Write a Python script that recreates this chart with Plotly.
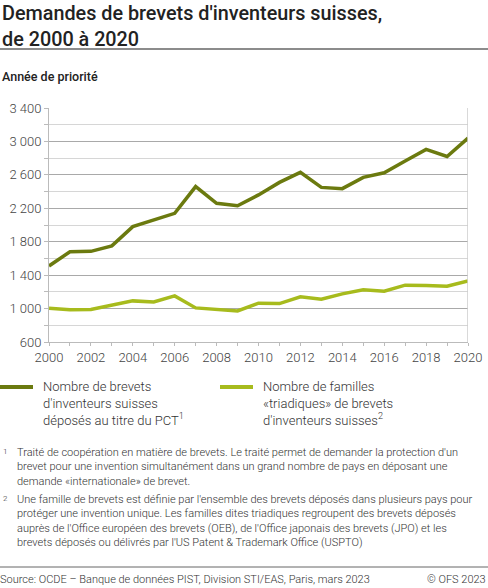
import plotly.graph_objects as go

years = list(range(2000, 2021))
pct = [1510, 1680, 1685, 1750, 1980, 2060, 2140, 2460, 2260, 2230, 2360, 2510, 2630,
       2450, 2435, 2570, 2625, 2765, 2905, 2820, 3040]
triad = [1005, 985, 990, 1040, 1092, 1080, 1152, 1008, 992, 972, 1064, 1060, 1140,
         1112, 1176, 1224, 1208, 1280, 1276, 1268, 1332]
name_pct = "Nombre de brevets<br>d'inventeurs suisses<br>déposés au titre du PCT<sup>1</sup>"
name_triad = "Nombre de familles<br>«triadiques» de brevets<br>d'inventeurs suisses<sup>2</sup>"
y_ticks = [600, 1000, 1400, 1800, 2200, 2600, 3000, 3400]
y_labels = ["600", "1 000", "1 400", "1 800", "2 200", "2 600", "3 000", "3 400"]

DARK = "#6b7a0f"
LIGHT = "#a7bb1d"
FONT = "Roboto"
W = 419.0
H = 234.0

fig = go.Figure()
fig.add_trace(go.Scatter(x=years, y=pct, mode="lines", name=name_pct,
                         line=dict(color=DARK, width=3.5), showlegend=False))
fig.add_trace(go.Scatter(x=years, y=triad, mode="lines", name=name_triad,
                         line=dict(color=LIGHT, width=3.5), showlegend=False))

tickfont = dict(family=FONT, size=13, color="#444444", weight=300)
fig.update_layout(
    width=488, height=588,
    margin=dict(l=49, r=20, t=108, b=246, autoexpand=False),
    paper_bgcolor="white", plot_bgcolor="white",
    font=dict(family=FONT, color="#333333"),
    showlegend=False,
    xaxis=dict(range=[2000, 2020], tickmode="array", tickvals=years[::2],
               tickfont=tickfont,
               showgrid=False, showline=True, linecolor="#bbbbbb", linewidth=1,
               ticks="outside", ticklen=3, tickcolor="#bbbbbb",
               minor=dict(tickvals=years, ticks="outside", ticklen=3, tickcolor="#bbbbbb"),
               zeroline=False, fixedrange=True),
    yaxis=dict(range=[600, 3400], tickmode="array", tickvals=y_ticks, ticktext=y_labels,
               tickfont=tickfont,
               showgrid=True, gridcolor="#a9a9a9", gridwidth=1,
               minor=dict(dtick=200, showgrid=True, gridcolor="#d6d6d6", ticks="outside",
                          ticklen=4, tickcolor="#bbbbbb"),
               showline=True, linecolor="#bbbbbb", linewidth=1,
               ticks="outside", ticklen=4, tickcolor="#bbbbbb",
               zeroline=False, fixedrange=True),
)


def ypx(px):
    return 1 - (px - 108) / H


def xpx(px):
    return (px - 49) / W


# right border of plot area
fig.add_shape(type="line", xref="x", yref="paper", x0=2020, x1=2020, y0=0, y1=1,
              line=dict(color="#cccccc", width=1.5))
# separator lines
fig.add_shape(type="line", xref="paper", yref="paper", x0=xpx(0), x1=xpx(488),
              y0=ypx(49), y1=ypx(49), line=dict(color="#666666", width=1.5))
fig.add_shape(type="line", xref="paper", yref="paper", x0=xpx(0), x1=xpx(488),
              y0=ypx(567), y1=ypx(567), line=dict(color="#666666", width=1))

# legend (manual)
for color, name, x0 in [(DARK, name_pct, 0), (LIGHT, name_triad, 220)]:
    fig.add_shape(type="line", xref="paper", yref="paper", x0=xpx(x0), x1=xpx(x0 + 33),
                  y0=ypx(387), y1=ypx(387), line=dict(color=color, width=4))
    fig.add_annotation(text=name, xref="paper", yref="paper", x=xpx(x0 + 41), y=ypx(377),
                       xanchor="left", yanchor="top", showarrow=False, align="left",
                       font=dict(family=FONT, size=13, color="#333333", weight=300))

fig.add_annotation(text="Demandes de brevets d'inventeurs suisses,<br>de 2000 à 2020",
                   xref="paper", yref="paper", x=xpx(0), y=ypx(0),
                   xanchor="left", yanchor="top", showarrow=False, align="left",
                   font=dict(family=FONT, size=19.8, color="#222222", weight=500))
fig.add_annotation(text="Année de priorité", xref="paper", yref="paper", x=xpx(0), y=ypx(67),
                   xanchor="left", yanchor="top", showarrow=False, align="left",
                   font=dict(family=FONT, size=12.5, color="#222222", weight=500))

foot1 = ("Traité de coopération en matière de brevets. Le traité permet de demander la protection d'un<br>"
         "brevet pour une invention simultanément dans un grand nombre de pays en déposant une<br>"
         "demande «internationale» de brevet.")
foot2 = ("Une famille de brevets est définie par l'ensemble des brevets déposés dans plusieurs pays pour<br>"
         "protéger une invention unique. Les familles dites triadiques regroupent des brevets déposés<br>"
         "auprès de l'Office européen des brevets (OEB), de l'Office japonais des brevets (JPO) et les<br>"
         "brevets déposés ou délivrés par l'US Patent & Trademark Office (USPTO)")
small = dict(family=FONT, size=11, color="#333333", weight=300)
sup = dict(family=FONT, size=8, color="#333333", weight=300)
fig.add_annotation(text="1", xref="paper", yref="paper", x=xpx(1), y=ypx(445),
                   xanchor="left", yanchor="top", showarrow=False, font=sup)
fig.add_annotation(text=foot1, xref="paper", yref="paper", x=xpx(15), y=ypx(444),
                   xanchor="left", yanchor="top", showarrow=False, align="left", font=small)
fig.add_annotation(text="2", xref="paper", yref="paper", x=xpx(1), y=ypx(492),
                   xanchor="left", yanchor="top", showarrow=False, font=sup)
fig.add_annotation(text=foot2, xref="paper", yref="paper", x=xpx(15), y=ypx(491),
                   xanchor="left", yanchor="top", showarrow=False, align="left", font=small)
fig.add_annotation(text="Source: OCDE – Banque de données PIST, Division STI/EAS, Paris, mars 2023",
                   xref="paper", yref="paper", x=xpx(-2), y=ypx(571), xanchor="left",
                   yanchor="top", showarrow=False, font=small)
fig.add_annotation(text="© OFS 2023", xref="paper", yref="paper", x=xpx(488), y=ypx(571),
                   xanchor="right", yanchor="top", showarrow=False, font=small)

fig.write_html("out.html", config={"displayModeBar": False},
               post_script="document.body.style.margin='0';document.body.style.overflow='hidden';")
